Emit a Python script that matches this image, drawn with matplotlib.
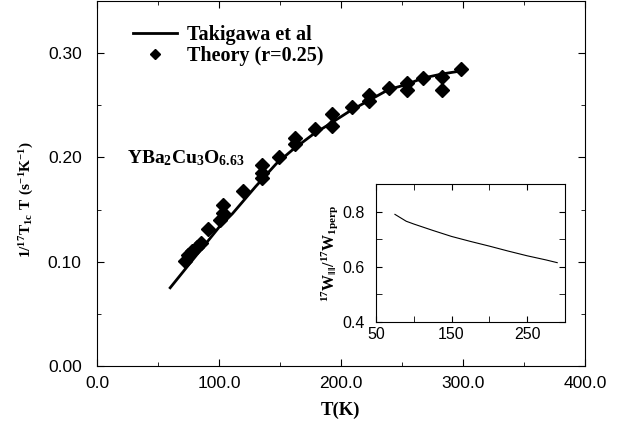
import matplotlib
matplotlib.use("Agg")
import matplotlib.pyplot as plt
from matplotlib.legend_handler import HandlerLine2D
from matplotlib.ticker import FixedLocator, FixedFormatter

plt.rcParams["mathtext.fontset"] = "custom"
plt.rcParams["mathtext.rm"] = "Liberation Serif:bold"
plt.rcParams["mathtext.default"] = "rm"

# Takigawa et al (solid line)
line_t = [60, 80, 100, 111, 130, 147, 160, 177, 192, 208, 222, 239, 254, 267, 283, 299]
line_y = [0.075, 0.104, 0.133, 0.146, 0.172, 0.194, 0.207, 0.222, 0.233, 0.245,
          0.254, 0.265, 0.270, 0.276, 0.280, 0.283]

# Theory (r=0.25) diamonds
theory_t = [72, 75, 78, 82, 85, 91, 101, 103, 103, 120, 135, 135, 135, 149, 162, 162,
            179, 193, 193, 209, 223, 223, 239, 254, 254, 267, 283, 283, 298]
theory_y = [0.101, 0.106, 0.110, 0.114, 0.118, 0.131, 0.140, 0.147, 0.154, 0.168,
            0.180, 0.185, 0.193, 0.200, 0.213, 0.219, 0.227, 0.230, 0.242, 0.248,
            0.254, 0.260, 0.267, 0.265, 0.271, 0.276, 0.265, 0.277, 0.285]

# inset: anisotropy ratio
inset_t = [75, 90, 100, 125, 150, 175, 200, 225, 250, 275, 290]
inset_r = [0.790, 0.765, 0.755, 0.732, 0.710, 0.692, 0.675, 0.657, 0.640, 0.625, 0.615]

main_xticks = [0, 100, 200, 300, 400]
main_xlabels = ["0.0", "100.0", "200.0", "300.0", "400.0"]
main_yticks = [0.0, 0.1, 0.2, 0.3]
main_ylabels = ["0.00", "0.10", "0.20", "0.30"]
inset_xticks = [50, 150, 250]
inset_yticks = [0.4, 0.6, 0.8]


class MarkerAtEnd(HandlerLine2D):
    # put the single legend marker at the right end of the handle
    def get_xdata(self, legend, xdescent, ydescent, width, height, fontsize):
        return [-xdescent, width - xdescent], [width - xdescent]


fig = plt.figure(figsize=(6.31, 4.24), dpi=100)
ax = fig.add_axes([0.1537, 0.1368, 0.7734, 0.861])

ax.plot(line_t, line_y, color="black", lw=2.0, label="Takigawa et al")
theory, = ax.plot(theory_t, theory_y, "D", color="black", ms=7, label="Theory (r=0.25)")

ax.set_xlim(0, 400)
ax.set_ylim(0, 0.35)
ax.xaxis.set_major_locator(FixedLocator(main_xticks))
ax.xaxis.set_minor_locator(FixedLocator([50, 150, 250, 350]))
ax.yaxis.set_major_locator(FixedLocator(main_yticks))
ax.yaxis.set_minor_locator(FixedLocator([0.05, 0.15, 0.25]))
ax.xaxis.set_major_formatter(FixedFormatter(main_xlabels))
ax.yaxis.set_major_formatter(FixedFormatter(main_ylabels))
ax.tick_params(which="both", direction="in", top=True, right=True)
ax.tick_params(which="major", length=5, labelsize=12.5)
ax.tick_params(which="minor", length=3)
ax.tick_params(axis="x", pad=7)
ax.tick_params(axis="y", pad=11)
for lab in ax.get_xticklabels() + ax.get_yticklabels():
    lab.set_family("Liberation Sans")

ax.set_xlabel("T(K)", family="Liberation Serif", weight="bold", fontsize=13.5, labelpad=8)
ax.set_ylabel(r"$1/^{17}T_{1c}\ T\ (s^{-1}K^{-1})$", fontsize=11)
ax.yaxis.set_label_coords(-0.125, 0.455)

ax.text(25, 0.199, r"$YBa_{2}Cu_{3}O_{6.63}$", fontsize=14, va="center")

ax.legend(loc="upper left", bbox_to_anchor=(0.074, 0.935), frameon=False,
          prop={"family": "Liberation Serif", "weight": "bold", "size": 14.5},
          handlelength=2.2, handletextpad=0.5, labelspacing=0.05,
          borderpad=0, borderaxespad=0, markerscale=0.75,
          handler_map={theory: MarkerAtEnd(numpoints=1)})

ins = fig.add_axes([0.596, 0.2406, 0.299, 0.3254])
ins.plot(inset_t, inset_r, color="black", lw=0.8)
ins.set_xlim(50, 300)
ins.set_ylim(0.4, 0.9)
ins.xaxis.set_major_locator(FixedLocator(inset_xticks))
ins.xaxis.set_minor_locator(FixedLocator([100, 200, 300]))
ins.yaxis.set_major_locator(FixedLocator(inset_yticks))
ins.yaxis.set_minor_locator(FixedLocator([0.5, 0.7]))
ins.xaxis.set_major_formatter(FixedFormatter(["50", "150", "250"]))
ins.yaxis.set_major_formatter(FixedFormatter(["0.4", "0.6", "0.8"]))
ins.tick_params(which="both", direction="in", top=True, right=True, labelsize=11.5, length=4)
ins.tick_params(axis="y", pad=8)
for lab in ins.get_xticklabels() + ins.get_yticklabels():
    lab.set_family("Liberation Sans")
ins.set_ylabel(r"$^{17}W_{\|\|}/^{17}W_{1perp}$", fontsize=11.5, labelpad=2)

fig.savefig("out.png", dpi=100)
